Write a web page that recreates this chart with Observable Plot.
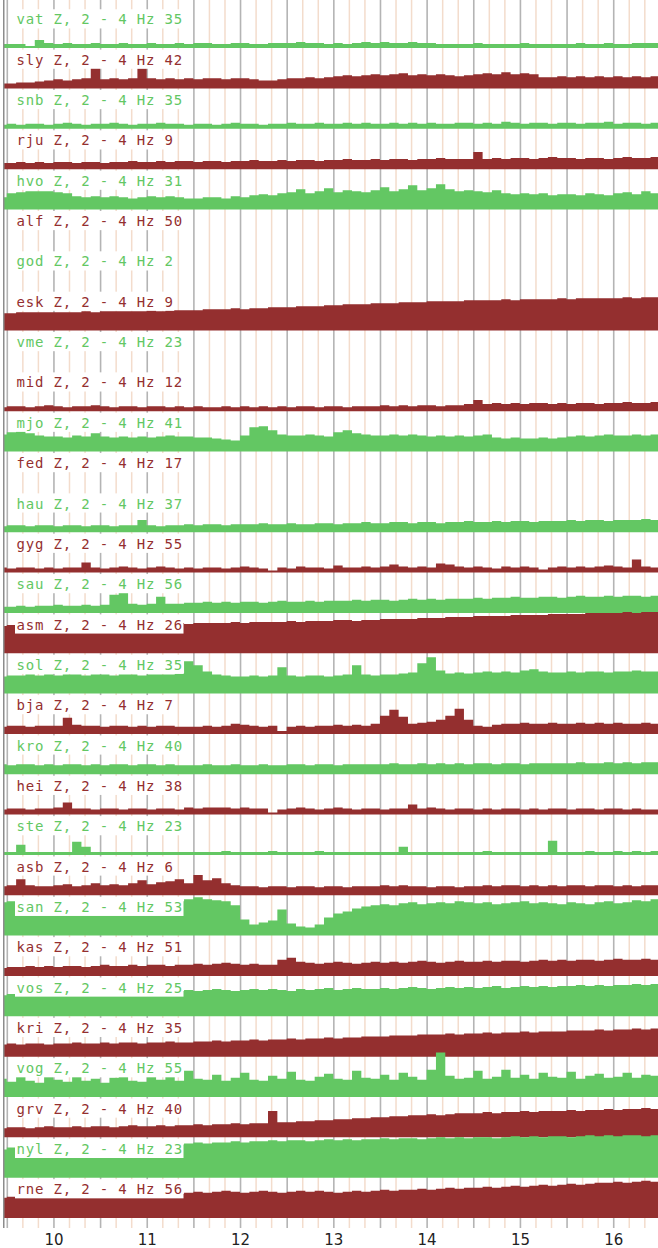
<!DOCTYPE html>
<html>
<head>
<meta charset="utf-8">
<script src="https://cdn.jsdelivr.net/npm/d3@7"></script>
<script src="https://cdn.jsdelivr.net/npm/@observablehq/plot@0.6"></script>
<style>
  html, body { margin: 0; padding: 0; background: #fff; }
  svg g[aria-label="text"] text { letter-spacing: 0.82px; }
</style>
</head>
<body>
<script>
// Stations (top to bottom) and the number shown in each label
const stations = ["vat","sly","snb","rju","hvo","alf","god","esk","vme","mid","mjo","fed","hau","gyg","sau","asm","sol","bja","kro","hei","ste","asb","san","kas","vos","kri","vog","grv","nyl","rne"];
const counts = [35,42,35,9,31,50,2,9,23,12,41,17,37,55,56,26,35,7,40,38,23,6,53,51,25,35,55,40,23,56];

// Sample times (hours), one every 6 minutes
const times = d3.range(72).map(k => +(9.4 + k / 10).toFixed(2));

// Tick labels of the time axis
const hourTicks = [10, 11, 12, 13, 14, 15, 16];

// Amplitude per station (row height = 40 units)
const vat = [4,4,4,2,8,5,4,5,4,4, 5,4,4,5,4,4,5,4,4,5, 4,5,5,4,4,5,5,4,4,5, 5,5,6,5,5,4,5,4,5,6, 5,6,5,5,6,5,5,4,4,4, 4,5,4,4,4,4,5,4,4,4, 4,4,5,4,4,5,4,4,5,5, 5,5];
const sly = [5,5,6,6,7,8,9,8,9,10, 22,9,10,9,10,20,10,9,10,9, 10,9,10,10,9,10,10,9,8,8, 9,10,10,11,10,11,12,13,12,13, 14,13,14,15,13,14,13,14,13,12, 13,14,15,14,16,14,15,14,11,11, 12,11,12,11,12,11,12,11,12,11, 12,12];
const snb = [4,5,4,5,5,4,5,6,5,4, 5,5,6,5,4,5,5,6,5,5, 4,5,5,4,5,6,5,5,4,5, 5,6,5,5,6,5,5,6,5,6, 5,5,6,5,6,5,6,5,5,6, 6,5,6,5,7,6,5,6,6,5, 6,6,5,6,6,7,5,6,6,5, 6,7];
const rju = [6,6,7,6,7,6,7,7,6,7, 7,6,7,7,8,7,7,8,7,8, 8,7,8,8,7,8,8,9,8,8, 9,8,9,9,8,9,9,10,9,9, 10,9,10,10,9,10,10,11,10,10, 10,17,10,11,10,11,11,10,11,12, 11,11,10,11,11,10,11,12,11,11, 12,12];
const hvo = [12,16,17,18,18,18,17,16,13,12, 13,12,13,12,11,12,13,12,13,12, 11,11,12,12,11,13,12,14,15,14, 16,17,20,16,18,21,17,19,18,17, 19,22,18,20,24,19,21,25,20,18, 19,18,17,19,16,15,16,15,16,14, 15,15,14,16,15,14,16,17,15,18, 16,16];
const alf = [];
const god = [];
const esk = [17,17,18,18,18,18,18,18,18,19, 18,19,19,19,19,19,20,19,20,20, 20,20,21,21,21,22,21,22,22,23, 23,23,24,24,24,25,25,26,26,26, 27,27,27,28,28,28,29,29,29,29, 30,30,30,30,31,30,31,31,31,31, 32,31,32,32,32,32,32,33,32,33, 33,33];
const vme = [];
const mid = [4,5,5,4,5,6,5,4,5,5, 6,5,4,5,5,4,5,5,4,5, 4,5,4,4,5,4,5,4,5,4, 5,4,5,5,4,5,5,4,5,5, 5,6,5,6,5,6,6,5,6,6, 7,11,7,8,7,8,7,8,8,7, 8,7,8,8,7,8,8,9,8,8, 9,9];
const mjo = [17,19,20,18,16,15,15,14,16,15, 18,15,14,15,14,15,14,15,16,15, 15,14,14,13,12,11,16,24,25,21, 17,16,16,17,16,15,19,21,18,17, 16,16,17,16,17,16,15,16,15,16, 15,16,17,14,13,14,13,13,14,13, 14,15,16,15,16,17,16,16,17,16, 17,17];
const fed = [];
const hau = [6,7,7,6,7,7,6,7,7,6, 7,7,6,7,7,12,7,6,7,7, 8,7,8,8,7,8,8,8,9,8, 8,9,8,8,9,9,8,9,9,10, 9,9,10,10,9,10,10,9,10,10, 11,10,10,11,10,11,11,10,11,11, 11,12,11,12,12,11,12,12,12,13, 12,13];
const gyg = [5,4,5,5,4,5,4,5,5,10, 5,4,5,6,5,4,5,6,5,4, 5,4,5,5,4,5,6,5,4,2, 5,4,6,5,5,4,7,5,5,6, 5,6,8,6,5,6,5,9,8,6, 5,6,5,4,6,5,6,5,3,5, 6,5,6,5,6,7,6,5,13,6, 5,6];
const sau = [6,6,7,6,7,7,8,7,7,8, 7,8,18,20,9,8,9,16,9,9, 10,10,11,10,11,10,11,11,10,11, 12,11,11,12,11,12,12,12,13,12, 13,13,12,13,14,13,14,13,14,14, 14,15,14,15,15,16,15,15,16,16, 15,16,17,16,16,17,16,17,17,16, 17,17];
const asm = [27,28,28,28,28,28,28,29,28,29, 29,29,29,29,29,29,30,29,30,30, 29,30,30,30,30,31,30,31,31,31, 31,32,31,32,32,32,33,33,32,33, 33,34,34,34,34,35,35,35,36,36, 36,37,37,37,37,38,38,38,38,39, 39,39,39,40,40,40,40,41,40,41, 41,41];
const sol = [17,18,18,19,18,19,18,19,19,18, 19,19,18,19,19,18,19,19,19,20, 32,28,22,19,18,17,17,18,17,18, 26,18,17,18,18,17,18,19,28,19, 18,19,19,20,21,30,36,23,20,21, 20,21,22,21,22,21,23,24,22,21, 21,22,21,22,22,21,22,22,23,22, 22,23];
const bja = [7,8,8,7,8,8,8,16,9,8, 8,7,8,8,7,8,7,8,8,7, 7,7,8,7,8,10,9,8,7,8, 3,7,8,7,8,8,9,8,9,8, 10,18,24,17,10,11,12,14,18,25, 14,8,7,9,10,10,11,10,10,11, 10,10,11,10,11,10,11,10,10,11, 10,10];
const kro = [10,9,10,10,9,10,9,10,10,9, 10,9,10,10,9,10,10,9,10,9, 9,9,10,9,9,10,9,9,10,9, 9,10,10,9,10,10,9,10,10,10, 10,10,11,10,10,11,10,11,10,11, 10,11,11,10,11,11,10,11,11,11, 11,11,12,11,11,12,11,12,11,12, 12,12];
const hei = [5,6,6,5,6,6,7,12,6,6, 5,6,6,5,6,6,5,6,6,5, 7,6,7,7,7,6,7,6,6,2, 5,6,7,6,5,6,7,6,5,6, 6,5,6,6,10,6,7,6,5,6, 6,5,6,5,6,6,5,6,5,6, 6,5,6,6,5,6,6,5,6,5, 5,5];
const ste = [3,3,10,3,3,3,3,3,13,8, 3,3,3,3,3,3,3,3,3,3, 3,3,3,3,4,3,3,3,3,4, 3,3,3,3,4,3,3,3,3,3, 3,3,3,8,3,3,3,3,3,3, 3,3,4,3,3,3,3,3,3,14, 3,3,3,4,3,3,4,3,4,3, 4,5];
const asb = [9,10,16,10,9,9,10,11,9,10, 12,10,11,10,12,15,11,13,14,16, 12,20,15,17,12,10,9,9,8,9, 9,8,9,9,8,9,9,8,9,9, 9,10,9,10,9,9,8,9,9,8, 9,9,10,9,10,10,9,10,9,10, 9,10,10,9,10,10,9,10,9,10, 10,10];
const san = [33,34,33,34,35,34,33,34,35,34, 33,34,35,34,33,34,35,34,35,34, 36,38,36,35,34,30,16,11,13,15, 26,12,9,8,11,18,22,24,27,29, 30,31,30,32,33,31,32,33,32,34, 33,32,33,31,32,33,34,32,33,32, 31,33,32,31,33,34,32,33,35,34, 36,37];
const kas = [8,9,9,10,9,10,9,10,10,9, 10,11,10,10,11,10,11,11,10,11, 11,12,11,12,13,12,11,12,11,11, 16,18,14,13,12,13,14,13,12,13, 14,13,14,13,14,15,14,13,14,15, 14,14,15,14,15,15,14,15,16,15, 16,15,16,16,15,16,17,16,16,17, 16,17];
const vos = [21,22,22,23,22,23,23,22,23,24, 23,24,23,24,24,23,24,25,24,25, 26,25,26,27,26,25,26,27,26,27, 26,25,27,26,27,28,26,27,28,27, 27,28,27,28,29,28,27,28,29,28, 29,28,29,30,28,29,30,29,30,29, 30,30,31,30,31,30,31,31,32,31, 32,32];
const kri = [12,13,12,13,13,12,13,13,14,13, 13,14,13,14,14,13,14,14,15,14, 14,15,15,16,15,16,16,17,16,17, 17,18,17,18,18,19,18,19,19,20, 20,20,21,21,21,22,22,22,23,22, 23,23,24,23,24,24,25,24,25,25, 25,26,26,26,27,26,27,27,28,27, 28,28];
const vog = [18,15,22,16,14,20,17,15,24,16, 18,14,19,22,16,15,20,17,23,16, 26,18,17,22,16,19,24,17,16,21, 18,25,17,16,20,23,18,17,26,19, 18,22,17,24,20,17,27,44,21,18, 19,26,18,20,27,19,22,18,24,20, 19,25,18,21,23,19,20,24,19,22, 21,23];
const grv = [9,10,10,9,10,11,10,10,11,10, 11,11,10,11,12,11,11,12,11,12, 12,13,12,13,13,14,13,14,14,26, 15,15,16,16,17,17,18,18,19,19, 20,20,21,21,22,22,23,22,23,24, 24,24,25,24,25,25,26,25,26,26, 26,27,26,27,27,28,27,28,28,29, 28,29];
const nyl = [28,30,29,30,31,30,31,31,30,31, 32,31,32,32,31,32,33,32,33,33, 34,35,34,35,35,36,35,36,36,37, 36,37,37,36,37,38,37,38,37,38, 38,39,38,39,39,38,39,40,39,40, 39,40,40,39,40,41,40,41,40,41, 41,40,41,42,41,42,41,42,42,41, 42,42];
const rne = [20,21,21,22,21,22,22,21,22,23, 22,23,23,22,23,23,24,23,24,24, 25,26,25,26,27,26,25,26,27,26, 25,26,27,26,27,26,25,26,27,26, 27,28,27,28,28,29,28,29,30,29, 30,30,31,30,31,32,31,32,33,32, 33,34,33,34,35,35,36,35,36,37, 36,37];

const series = [vat,sly,snb,rju,hvo,alf,god,esk,vme,mid,mjo,fed,hau,gyg,sau,asm,sol,bja,kro,hei,ste,asb,san,kas,vos,kri,vog,grv,nyl,rne];

const GREEN = "#63c763";
const RED = "#942f2f";
const ROW = 40;
const nRows = stations.length;
const x0 = 9.47, x1 = 16.48;
const pxPerHour = 654 / (x1 - x0);

const rows = stations.map((s, i) => ({
  name: s,
  label: `${s} Z, 2 - 4 Hz ${counts[i]}`,
  base: (nRows - 1 - i) * ROW,
  color: i % 2 === 0 ? GREEN : RED
}));

const points = [];
rows.forEach((r, i) => {
  series[i].forEach((v, k) => {
    points.push({name: r.name, t: times[k], y1: r.base, y2: r.base + v, color: r.color});
  });
});

const halfHours = d3.range(19, 34).map(h => h / 2);          // 9.5 ... 16.5
const tenMinutes = d3.range(57, 100).map(m => m / 6).filter(t => Math.abs(t * 2 - Math.round(t * 2)) > 1e-6);

const chart = Plot.plot({
  width: 658,
  height: 1248,
  marginTop: 0,
  marginBottom: 20,
  marginLeft: 4,
  marginRight: 0,
  style: {fontFamily: "DejaVu Sans", background: "#fff"},
  x: {domain: [x0, x1]},
  y: {domain: [-9.9, 1207.7], axis: null},
  marks: [
    Plot.ruleX(tenMinutes, {stroke: "#f3dccc", strokeWidth: 1.5}),
    Plot.ruleX(halfHours, {stroke: "#b4b4b4", strokeWidth: 1.6}),
    Plot.areaY(points, {x: "t", y1: "y1", y2: "y2", z: "name", fill: "color", curve: "step-after", clip: true}),
    Plot.rect(rows, {
      x1: () => x0 + 11 / pxPerHour,
      x2: d => x0 + (13 + d.label.length * 9.25) / pxPerHour,
      y1: d => d.base + 19.5,
      y2: d => d.base + 38.5,
      fill: "white"
    }),
    Plot.text(rows, {
      x: () => x0, y: d => d.base + 24, dx: 12,
      text: "label", fill: "color",
      textAnchor: "start", lineAnchor: "bottom",
      fontFamily: "DejaVu Sans Mono", fontSize: 14
    }),
    Plot.ruleX([x0], {stroke: "#8c8c8c", strokeWidth: 1.5, dx: -0.75}),
    Plot.axisX(hourTicks, {tickSize: 0, tickPadding: 6, fontSize: 15, fill: "#222", tickFormat: d => String(d), label: null})
  ]
});

document.body.appendChild(chart);
</script>
</body>
</html>
